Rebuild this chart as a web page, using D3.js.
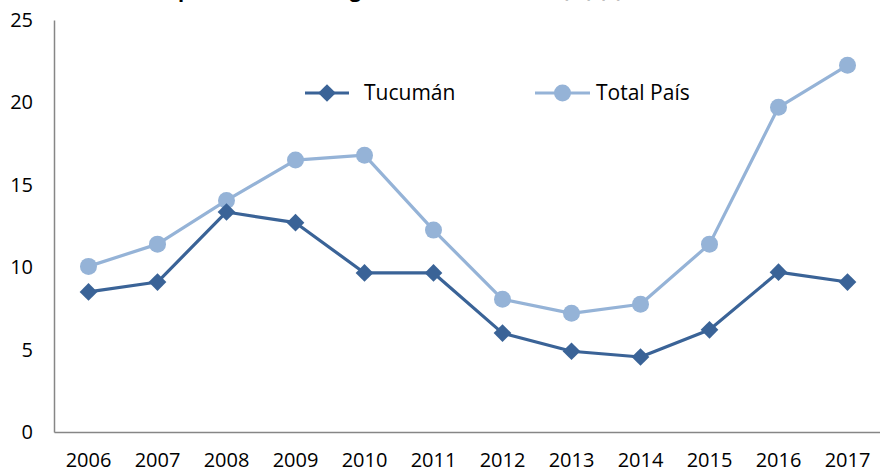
<!DOCTYPE html>
<html>
<head>
<meta charset="utf-8">
<script src="https://cdn.jsdelivr.net/npm/d3@7"></script>
<style>
  body { margin: 0; background: #fff; }
  svg { display: block; font-family: "Open Sans", sans-serif; }
</style>
</head>
<body>
<div id="chart"></div>
<script>
// data
const years = ["2006", "2007", "2008", "2009", "2010", "2011", "2012", "2013", "2014", "2015", "2016", "2017"];
const tucuman = [8.5, 9.1, 13.35, 12.7, 9.65, 9.65, 6.0, 4.9, 4.55, 6.2, 9.7, 9.1];
const totalPais = [10.05, 11.4, 14.05, 16.5, 16.8, 12.25, 8.05, 7.2, 7.75, 11.4, 19.7, 22.25];
const yTicks = [0, 5, 10, 15, 20, 25];
const titleText = "Tasa de Desocupación Total en Aglomerados Urbanos (%) (*) – Tucumán vs Total País";

const W = 880, H = 472;
const margin = {top: 20, right: -2, bottom: 40, left: 54};

const svg = d3.select("#chart").append("svg")
    .attr("width", W)
    .attr("height", H);

// title is cut by the top edge in the reference, only its lowest pixels show
svg.append("text")
    .attr("x", 445)
    .attr("y", -3)
    .attr("text-anchor", "middle")
    .style("font-size", "20px")
    .style("font-weight", "bold")
    .attr("fill", "#000")
    .text(titleText);

const x = d3.scaleBand()
    .domain(years)
    .range([margin.left, W - margin.right]);

const y = d3.scaleLinear()
    .domain([0, 25])
    .range([H - margin.bottom, margin.top]);

// y axis line + labels
svg.append("g")
    .attr("transform", `translate(${margin.left},0)`)
    .call(d3.axisLeft(y).tickValues(yTicks).tickSize(0).tickPadding(21))
    .call(g => g.select(".domain").attr("stroke", "#868686").attr("stroke-width", 1.5))
    .call(g => g.selectAll("text").style("font-size", "20px").attr("fill", "#000")
        .style("font-family", "'Open Sans', sans-serif"));

// x axis
svg.append("g")
    .attr("transform", `translate(0,${y(0)})`)
    .call(d3.axisBottom(x).tickSize(0).tickPadding(21))
    .call(g => g.select(".domain").attr("stroke", "#868686").attr("stroke-width", 1.5))
    .call(g => g.selectAll("text").style("font-size", "20px").attr("fill", "#000")
        .style("font-family", "'Open Sans', sans-serif"));

const cx = (d, i) => x(years[i]) + x.bandwidth() / 2;

const series = [
    {name: "Tucumán", values: tucuman, color: "#3A6397", shape: "diamond"},
    {name: "Total País", values: totalPais, color: "#95B3D7", shape: "circle"}
];

const line = d3.line()
    .x((d, i) => cx(d, i))
    .y(d => y(d));

const diamond = d3.symbol().type(d3.symbolDiamond2).size(200);

function drawMarker(sel, s, px, py) {
    if (s.shape === "circle") {
        sel.append("circle")
            .attr("cx", px).attr("cy", py).attr("r", 8.5)
            .attr("fill", s.color);
    } else {
        sel.append("path")
            .attr("d", diamond)
            .attr("transform", `translate(${px},${py})`)
            .attr("fill", s.color);
    }
}

// draw Total País first so Tucumán sits on top
[series[1], series[0]].forEach(s => {
    const g = svg.append("g");
    g.append("path")
        .datum(s.values)
        .attr("fill", "none")
        .attr("stroke", s.color)
        .attr("stroke-width", 3.2)
        .attr("stroke-linejoin", "round")
        .attr("d", line);
    s.values.forEach((v, i) => drawMarker(g, s, cx(v, i), y(v)));
});

// legend
const legendPos = [{x: 305, len: 44, tx: 364}, {x: 535, len: 55, tx: 596}];
series.forEach((s, i) => {
    const lp = legendPos[i];
    const g = svg.append("g");
    g.append("line")
        .attr("x1", lp.x).attr("x2", lp.x + lp.len)
        .attr("y1", 93).attr("y2", 93)
        .attr("stroke", s.color).attr("stroke-width", 3.2);
    drawMarker(g, s, lp.x + lp.len / 2, 93);
    g.append("text")
        .attr("x", lp.tx)
        .attr("y", 100)
        .style("font-size", "21px")
        .attr("fill", "#000")
        .text(s.name);
});
</script>
</body>
</html>
